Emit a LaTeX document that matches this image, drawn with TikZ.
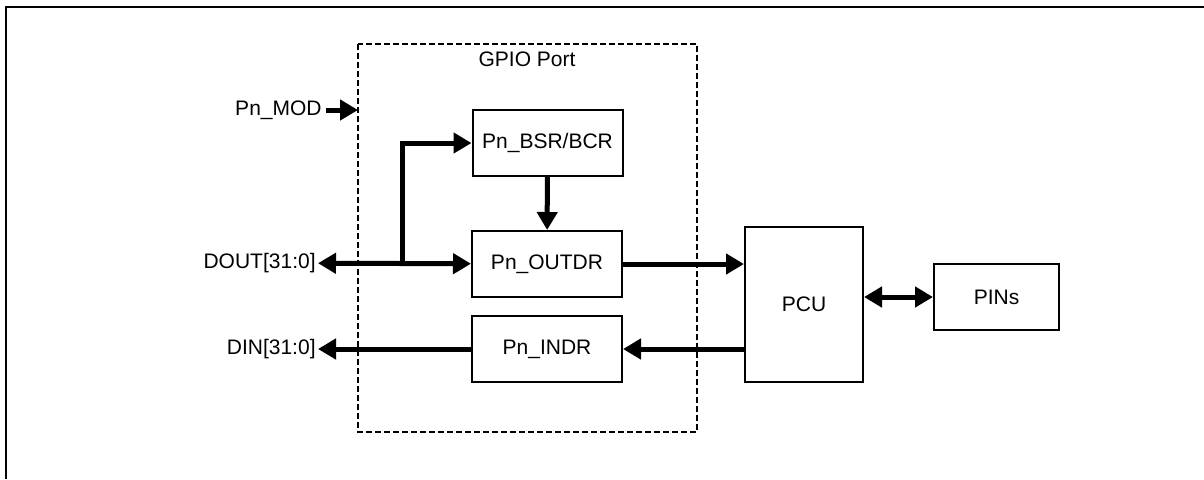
\documentclass[tikz,border=0pt]{standalone}
\usepackage{fontspec}
\setmainfont{Liberation Sans}
\usetikzlibrary{arrows.meta}

\begin{document}
\begin{tikzpicture}[x=0.5pt,y=-0.5pt,
	every node/.style={font=\fontsize{10.5}{12.6}\selectfont},
	reg/.style={draw,line width=1pt,minimum width=75pt,minimum height=33pt,inner sep=0pt},
	bus/.style={line width=2.5pt,-{Triangle[length=9pt,width=10pt]}},
	dbus/.style={line width=2.5pt,{Triangle[length=9pt,width=10pt]}-{Triangle[length=9pt,width=10pt]}}]
	\useasboundingbox (0,0) rectangle (1204,479);
	\draw[line width=1.2pt] (1204,7) -- (6,7) -- (6,479);
	\draw[dash pattern=on 3pt off 1.5pt,line width=0.6pt] (358,44) rectangle (697,432);
	\node at (527,59) (gpio) {GPIO Port};
	\node[reg] at (547.5,143) (bsr) {Pn\_BSR/BCR};
	\node[reg] at (547,264) (outdr) {Pn\_OUTDR};
	\node[reg] at (547,349) (indr) {Pn\_INDR};
	\node[reg,minimum width=59pt,minimum height=77.5pt] at (804,304.5) (pcu) {PCU};
	\node[reg,minimum width=62.5pt] at (996.5,297) (pins) {PINs};
	\node[anchor=east,inner sep=2pt] at (326,110) (mod) {Pn\_MOD};
	\node[anchor=east,inner sep=1pt] at (318,263) (dout) {DOUT[31:0]};
	\node[anchor=east,inner sep=1pt] at (318,349) (din) {DIN[31:0]};
	\coordinate (modend) at (358,110);
	\coordinate (split) at (402,263);
	\path[bus] (mod) edge (modend);
	\path[dbus] (dout) edge (outdr);
	\draw[bus] (split) -- (split |- bsr.west) -- (bsr.west);
	\path[bus] (bsr) edge (outdr);
	\path[bus] (outdr.east) edge (outdr.east -| pcu.west);
	\path[bus] (pcu.west |- indr.east) edge (indr.east);
	\path[bus] (indr) edge (din);
	\path[dbus] (pins.west -| pcu.east) edge (pins.west);
\end{tikzpicture}
\end{document}
